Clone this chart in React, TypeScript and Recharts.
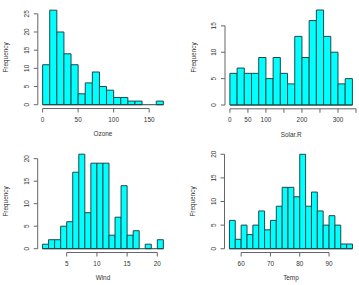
import React from 'react';
import { ComposedChart, Bar, XAxis, YAxis, ReferenceLine, Label } from 'recharts';

// ---- data (airquality histograms) ----
const ozoneBreaks = [0, 10, 20, 30, 40, 50, 60, 70, 80, 90, 100, 110, 120, 130, 140, 150, 160, 170];
const ozoneCounts = [11, 26, 20, 14, 11, 3, 6, 9, 5, 4, 2, 2, 1, 1, 0, 0, 1];
const ozoneXTicks = [0, 50, 100, 150];
const ozoneXLabels = [0, 50, 100, 150];
const ozoneYTicks = [0, 5, 10, 15, 20, 25];

const solarBreaks = [0, 20, 40, 60, 80, 100, 120, 140, 160, 180, 200, 220, 240, 260, 280, 300, 320, 340];
const solarCounts = [6, 7, 6, 6, 9, 5, 9, 6, 4, 13, 9, 16, 18, 13, 10, 4, 5];
const solarXTicks = [0, 50, 100, 150, 200, 250, 300, 350];
const solarXLabels = [0, 50, 100, 200, 300];
const solarYTicks = [0, 5, 10, 15];

const windBreaks = [1, 2, 3, 4, 5, 6, 7, 8, 9, 10, 11, 12, 13, 14, 15, 16, 17, 18, 19, 20, 21];
const windCounts = [1, 2, 2, 5, 6, 17, 21, 8, 19, 19, 19, 3, 7, 14, 3, 4, 0, 1, 0, 2];
const windXTicks = [5, 10, 15, 20];
const windXLabels = [5, 10, 15, 20];
const windYTicks = [0, 5, 10, 15, 20];

const tempBreaks = [56, 58, 60, 62, 64, 66, 68, 70, 72, 74, 76, 78, 80, 82, 84, 86, 88, 90, 92, 94, 96, 98];
const tempCounts = [6, 2, 5, 3, 5, 8, 4, 6, 9, 13, 13, 11, 20, 9, 12, 8, 5, 7, 5, 1, 1];
const tempXTicks = [60, 70, 80, 90];
const tempXLabels = [60, 70, 80, 90];
const tempYTicks = [0, 5, 10, 15, 20];

const FONT = 'Liberation Sans, Arial, Helvetica, sans-serif';
const FS = 6.4;
const TEXT = '#333';
const AXIS = '#666';
const BAR_FILL = '#00FFFF';
const BAR_STROKE = '#1e4a4a';

type Spec = {
  left: number; top: number; width: number; height: number;
  plotLeft: number; plotRight: number; plotTop: number; plotBottom: number;
  breaks: number[]; counts: number[];
  xTicks: number[]; xLabels: number[]; yTicks: number[];
  xTitle: string;
};

function Hist({ spec }: { spec: Spec }) {
  const { breaks, counts, width, height, plotLeft, plotRight, plotTop, plotBottom } = spec;
  const data = counts.map((c, i) => ({ mid: (breaks[i] + breaks[i + 1]) / 2, count: c }));
  const xMin = breaks[0];
  const xMax = breaks[breaks.length - 1];
  const xPad = (xMax - xMin) * 0.04;
  const yMax = Math.max(...counts);
  const yPad = yMax * 0.04;
  const xDomain: [number, number] = [xMin - xPad, xMax + xPad];
  const yDomain: [number, number] = [-yPad, yMax + yPad];
  const plotW = plotRight - plotLeft;
  const binPx = ((breaks[1] - breaks[0]) / (xDomain[1] - xDomain[0])) * plotW;

  const xTick = (p: any) => {
    const v = p.payload.value;
    if (!spec.xLabels.includes(v)) return <g />;
    return (
      <text x={p.x} y={p.y + 7} dy="0.35em" textAnchor="middle" fontFamily={FONT} fontSize={FS} fill={TEXT}>
        {v}
      </text>
    );
  };
  const yTick = (p: any) => (
    <text
      x={p.x - 7}
      y={p.y}
      dy="0.35em"
      textAnchor="middle"
      transform={`rotate(-90, ${p.x - 7}, ${p.y})`}
      fontFamily={FONT}
      fontSize={FS}
      fill={TEXT}
    >
      {p.payload.value}
    </text>
  );

  const xTitle = (p: any) => {
    const vb = p.viewBox;
    return (
      <text x={vb.x + vb.width / 2} y={vb.y + 25.5} dy="0.35em" textAnchor="middle" fontFamily={FONT} fontSize={FS} fill={TEXT}>
        {spec.xTitle}
      </text>
    );
  };
  const yTitle = (p: any) => {
    const vb = p.viewBox;
    const cx = vb.x + vb.width - 31.7;
    const cy = vb.y + vb.height / 2;
    return (
      <text x={cx} y={cy} dy="0.35em" textAnchor="middle" transform={`rotate(-90, ${cx}, ${cy})`} fontFamily={FONT} fontSize={FS} fill={TEXT}>
        Frequency
      </text>
    );
  };

  return (
    <div style={{ position: 'absolute', left: spec.left, top: spec.top, width, height }}>
      <ComposedChart
        width={width}
        height={height}
        data={data}
        margin={{ top: plotTop, right: width - plotRight, bottom: 0, left: 0 }}
      >
        <XAxis
          dataKey="mid"
          type="number"
          domain={xDomain}
          allowDataOverflow
          ticks={spec.xTicks}
          interval={0}
          axisLine={false}
          tickLine={{ stroke: AXIS, strokeWidth: 1 }}
          tickSize={4}
          tickMargin={0}
          tick={xTick}
          height={height - plotBottom}
        >
          <Label content={xTitle} />
        </XAxis>
        <YAxis
          type="number"
          domain={yDomain}
          allowDataOverflow
          ticks={spec.yTicks}
          interval={0}
          axisLine={false}
          tickLine={{ stroke: AXIS, strokeWidth: 1 }}
          tickSize={4}
          tickMargin={0}
          tick={yTick}
          width={plotLeft}
        >
          <Label content={yTitle} />
        </YAxis>
        <Bar
          dataKey="count"
          fill={BAR_FILL}
          stroke={BAR_STROKE}
          strokeWidth={1}
          barSize={binPx - 0.001}
          isAnimationActive={false}
        />
        <ReferenceLine
          segment={[{ x: xMin, y: 0 }, { x: xMax, y: 0 }]}
          stroke={BAR_STROKE}
          strokeWidth={1}
          ifOverflow="visible"
        />
        <ReferenceLine
          segment={[{ x: spec.xTicks[0], y: yDomain[0] }, { x: spec.xTicks[spec.xTicks.length - 1], y: yDomain[0] }]}
          stroke={AXIS}
          strokeWidth={1}
          ifOverflow="visible"
        />
        <ReferenceLine
          segment={[{ x: xDomain[0], y: spec.yTicks[0] }, { x: xDomain[0], y: spec.yTicks[spec.yTicks.length - 1] }]}
          stroke={AXIS}
          strokeWidth={1}
          ifOverflow="visible"
        />
      </ComposedChart>
    </div>
  );
}

const panels: Spec[] = [
  {
    left: 0, top: 0, width: 179, height: 142,
    plotLeft: 37.8, plotRight: 168.2, plotTop: 6.4, plotBottom: 108.5,
    breaks: ozoneBreaks, counts: ozoneCounts, xTicks: ozoneXTicks, xLabels: ozoneXLabels, yTicks: ozoneYTicks, xTitle: 'Ozone',
  },
  {
    left: 180, top: 0, width: 179, height: 142,
    plotLeft: 45, plotRight: 177.3, plotTop: 6.2, plotBottom: 108.8,
    breaks: solarBreaks, counts: solarCounts, xTicks: solarXTicks, xLabels: solarXLabels, yTicks: solarYTicks, xTitle: 'Solar.R',
  },
  {
    left: 0, top: 142, width: 179, height: 143,
    plotLeft: 37.7, plotRight: 168.2, plotTop: 8.4, plotBottom: 110.5,
    breaks: windBreaks, counts: windCounts, xTicks: windXTicks, xLabels: windXLabels, yTicks: windYTicks, xTitle: 'Wind',
  },
  {
    left: 180, top: 142, width: 179, height: 143,
    plotLeft: 44.5, plotRight: 177.4, plotTop: 8.5, plotBottom: 110.5,
    breaks: tempBreaks, counts: tempCounts, xTicks: tempXTicks, xLabels: tempXLabels, yTicks: tempYTicks, xTitle: 'Temp',
  },
];

export default function App() {
  return (
    <div style={{ position: 'absolute', left: 0, top: 0, width: 359, height: 285, background: '#fff', overflow: 'hidden' }}>
      {panels.map((p) => (
        <Hist key={p.xTitle} spec={p} />
      ))}
    </div>
  );
}
